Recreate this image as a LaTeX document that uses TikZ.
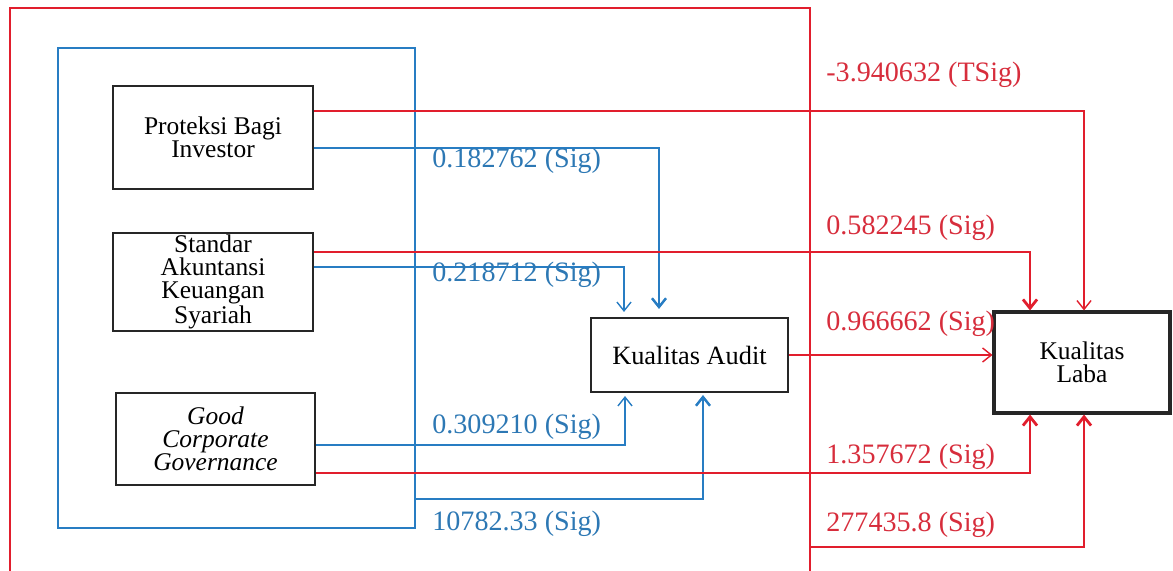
\documentclass[tikz,border=0pt]{standalone}
\usepackage{fontspec}
\setmainfont{Liberation Serif}
\usetikzlibrary{calc,arrows.meta}
\definecolor{rline}{RGB}{225,30,45}
\definecolor{bline}{RGB}{40,125,195}
\definecolor{rtext}{RGB}{215,45,60}
\definecolor{btext}{RGB}{45,120,180}
\tikzset{
  box/.style={draw=black!85,line width=1.2pt,align=center,inner sep=1pt,
    font=\fontsize{14.5}{13}\selectfont},
  rl/.style={draw=rline,line width=0.8pt},
  rlthick/.style={draw=rline,line width=1.6pt},
  bl/.style={draw=bline,line width=0.8pt},
  blthick/.style={draw=bline,line width=1.4pt},
  tip/.style={-{Straight Barb[length=5pt,width=8pt]}},
  rlab/.style={anchor=west,text=rtext,inner sep=0pt,font=\fontsize{16}{18}\selectfont},
  blab/.style={anchor=west,text=btext,inner sep=0pt,font=\fontsize{16}{18}\selectfont},
}
\begin{document}
\begin{tikzpicture}[x=0.02cm,y=-0.02cm]
\useasboundingbox (0,0) rectangle (1173,571);
% frames
\draw[draw=rline,line width=1pt] (10,571) -- (10,8) -- (810,8) -- (810,571);
\draw[draw=bline,line width=1pt] (58,48) rectangle (415,528);
% nodes
\node[box,minimum width=4cm,minimum height=2.06cm] (P) at (213,137.5) {Proteksi Bagi\\Investor};
\node[box,minimum width=4cm,minimum height=1.92cm] (S) at (213,282) {Standar\\Akuntansi\\Keuangan\\Syariah};
\node[box,minimum width=3.98cm,minimum height=1.84cm] (G) at (215.5,439) {\textit{Good}\\\textit{Corporate}\\\textit{Governance}};
\node[box,minimum width=3.94cm,minimum height=1.48cm,font=\fontsize{15}{13}\selectfont] (A) at (689.5,355) {Kualitas Audit};
\node[box,line width=1.8pt,minimum width=3.52cm,minimum height=2.02cm] (L) at (1082,362.5) {Kualitas\\Laba};
\coordinate (rf) at (810,547);
\coordinate (bf) at (415,499);
% blue connectors to Kualitas Audit
\draw[blthick,tip] ($(P.east)+(0,10.5)$) -| ($(A.north)+(-30.5,-8)$);
\draw[bl,tip] ($(S.east)+(0,-15)$) -| ($(A.north)+(-65.5,-5)$);
\draw[bl,tip] ($(G.east)+(0,6)$) -| ($(A.south)+(-64.5,3)$);
\draw[blthick,tip] (bf) -| ($(A.south)+(13.5,2)$);
% red connectors to Kualitas Laba
\draw[rl,tip] ($(P.east)+(0,-26.5)$) -| ($(L.north)+(2,0)$);
\draw[rlthick,tip] ($(S.east)+(0,-30)$) -| ($(L.north)+(-52,0)$);
\draw[rl,tip] (A.east) -- (A.east -| L.west);
\draw[rlthick,tip] ($(G.east)+(0,34)$) -| ($(L.south)+(-52,0)$);
\draw[rlthick,tip] (rf) -| ($(L.south)+(2,0)$);
% labels
\node[blab] (b1) at (432,161) {0.182762 (Sig)};
\node[blab] (b2) at (432,275) {0.218712 (Sig)};
\node[blab] (b3) at (432,427) {0.309210 (Sig)};
\node[blab] (b4) at (432,524) {10782.33 (Sig)};
\node[rlab] (r1) at (826,75) {-3.940632 (TSig)};
\node[rlab] (r2) at (826,228) {0.582245 (Sig)};
\node[rlab] (r3) at (826,324) {0.966662 (Sig)};
\node[rlab] (r4) at (826,457) {1.357672 (Sig)};
\node[rlab] (r5) at (826,525) {277435.8 (Sig)};
\end{tikzpicture}
\end{document}
